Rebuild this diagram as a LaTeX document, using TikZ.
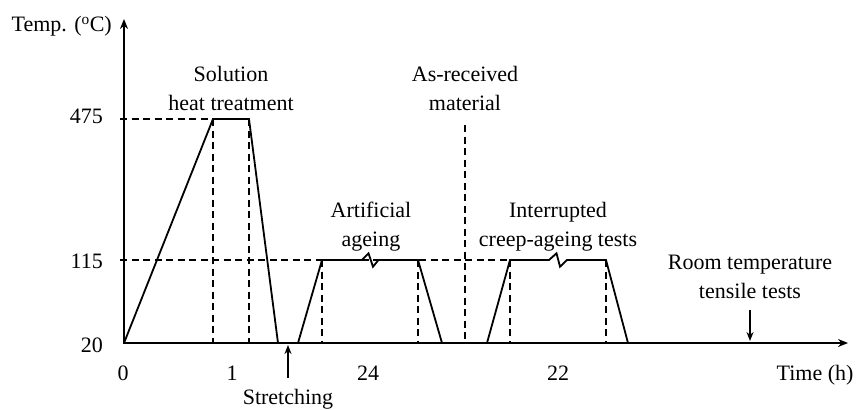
\documentclass[tikz,border=0pt]{standalone}
\usepackage{fontspec}
\setmainfont{Liberation Serif}
\usetikzlibrary{arrows.meta}
\begin{document}
\begin{tikzpicture}[x=1pt,y=-1pt,
    font=\fontsize{22}{28.5}\selectfont,
    axis/.style={line width=2pt,line join=miter,{Stealth[length=10pt,width=8pt]}-{Stealth[length=10pt,width=8pt]}},
    curve/.style={line width=1.8pt,line join=miter},
    guide/.style={line width=1.5pt,dash pattern=on 7pt off 4.5pt},
    lbl/.style={align=center,anchor=base,inner sep=0pt},
    tick/.style={anchor=base east,inner sep=0pt},
    pointer/.style={line width=1.6pt,-{Stealth[length=9pt,width=7pt]}}]
    \useasboundingbox (0,0) rectangle (858,409);
    
    %%% key points
    \coordinate (O) at (124,343);
    \coordinate (ytip) at (124,19);
    \coordinate (xtip) at (848,343);
    \coordinate (s1) at (213,119);
    \coordinate (s2) at (249,119);
    \coordinate (a1) at (322,260);
    \coordinate (a2) at (418,260);
    \coordinate (c1) at (510,260);
    \coordinate (c2) at (606,260);
    \coordinate (ar) at (465,125);
    
    %%% dashed guides
    \draw[guide] (120,119) -- (s1);
    \draw[guide] (120,260) -- (c1);
    \foreach \p in {s1,s2,a1,a2,c1,c2,ar}
        \draw[guide] (\p) -- (\p |- O);
    
    %%% axes
    \draw[axis] (ytip) -- (O) -- (xtip);
    
    %%% temperature history
    \draw[curve] (O) -- (s1) -- (s2) -- (278,343);
    \draw[curve] (298,343) -- (a1) -- (362,260) -- ++(6.5,-6.7) -- ++(4.5,13.4) -- ++(5.5,-6.7) -- (a2) -- (442,343);
    \draw[curve] (487,343) -- (c1) -- (549,260) -- ++(7.5,-6.7) -- ++(3.5,13.4) -- ++(7,-6.7) -- (c2) -- (628,343);
    
    %%% axis labels
    \node[inner sep=0pt,anchor=base east] (temp) at (112,32) {Temp. (\textsuperscript{o}C)};
    \node[lbl] (time) at (815,380) {Time (h)};
    \node[tick] (t475) at (103,123) {475};
    \node[tick] (t115) at (103,268) {115};
    \node[tick] (t20) at (103,352) {20};
    \node[lbl] (x0) at (123,380) {0};
    \node[lbl] (x1) at (232,380) {1};
    \node[lbl] (x24) at (368,380) {24};
    \node[lbl] (x22) at (558,380) {22};
    
    %%% stage labels (base = last line)
    \node[lbl] (sht) at (231,110.5) {Solution\\heat treatment};
    \node[lbl] (asrec) at (465,110.5) {As-received\\material};
    \node[lbl] (age) at (371,246) {Artificial\\ageing};
    \node[lbl] (creep) at (558,246) {Interrupted\\creep-ageing tests};
    \node[lbl] (room) at (750,298) {Room temperature\\tensile tests};
    \node[lbl] (stretch) at (288,404) {Stretching};
    
    %%% pointers
    \coordinate (st) at (288,378);
    \coordinate (stx) at (288,345);
    \draw[pointer] (st) -- (stx);
    \coordinate (rt) at (750,310);
    \coordinate (rtx) at (750,341);
    \draw[pointer] (rt) -- (rtx);
\end{tikzpicture}
\end{document}
